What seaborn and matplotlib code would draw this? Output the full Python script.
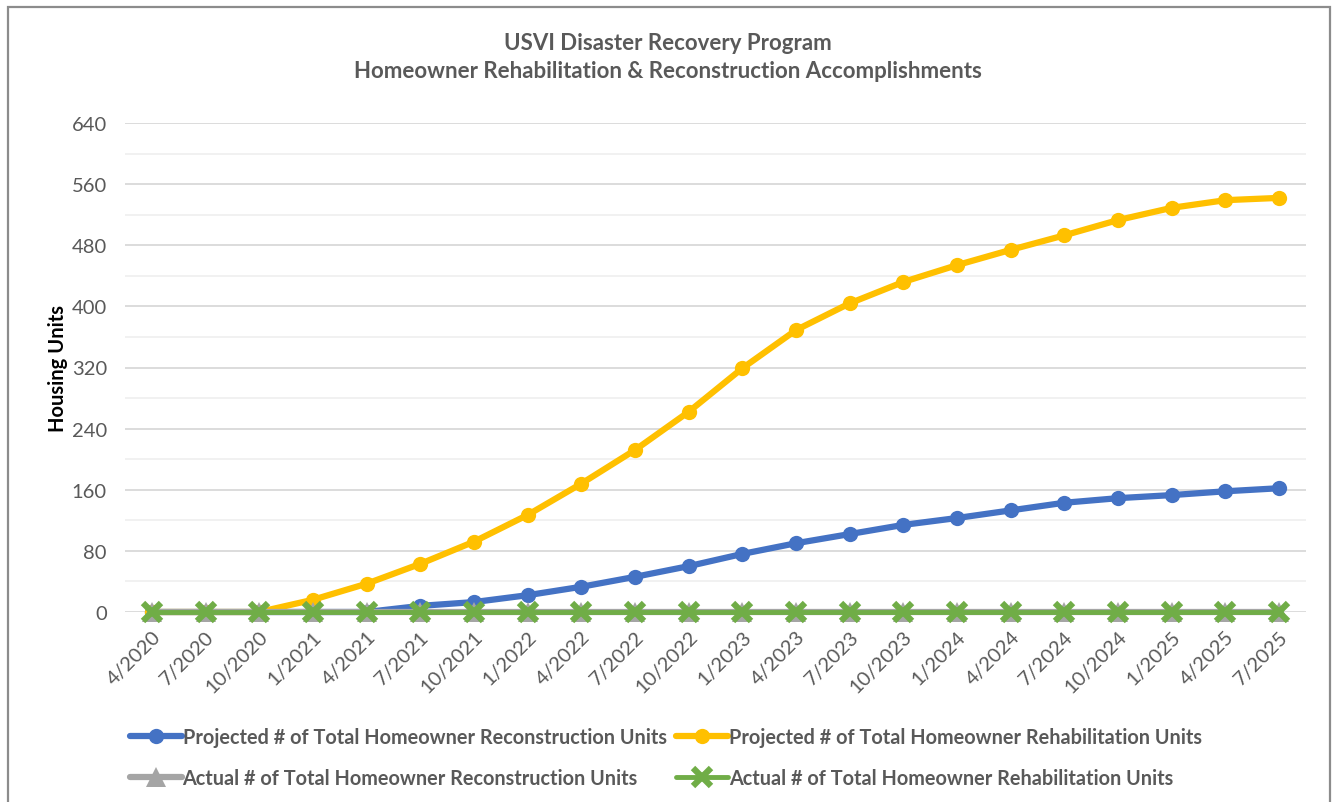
import numpy as np
import pandas as pd
import matplotlib
matplotlib.use("Agg")
import matplotlib.pyplot as plt
from matplotlib.ticker import MultipleLocator
import seaborn as sns

# Quarterly reporting periods
quarters = ["4/2020", "7/2020", "10/2020", "1/2021", "4/2021", "7/2021", "10/2021",
            "1/2022", "4/2022", "7/2022", "10/2022", "1/2023", "4/2023", "7/2023",
            "10/2023", "1/2024", "4/2024", "7/2024", "10/2024", "1/2025", "4/2025",
            "7/2025"]

proj_reconstruction = [0, 0, 0, 0, 0, 8, 13, 22, 33, 46, 60, 76, 90, 102, 114,
                       123, 133, 143, 149, 153, 158, 162]
proj_rehabilitation = [0, 0, 0, 16, 37, 63, 92, 127, 168, 212, 262, 319, 369,
                       404, 432, 454, 474, 493, 513, 529, 539, 542]
actual_reconstruction = [0] * 22
actual_rehabilitation = [0] * 22

series_names = ["Projected # of Total Homeowner Reconstruction Units",
                "Projected # of Total Homeowner Rehabilitation Units",
                "Actual # of Total Homeowner Reconstruction Units",
                "Actual # of Total Homeowner Rehabilitation Units"]

sns.set_theme(style="white")
plt.rcParams["font.family"] = ["Lato", "DejaVu Sans"]

fig = plt.figure(figsize=(13.36, 8.03), dpi=100)
ax = fig.add_axes([125 / 1336, 1 - 613 / 803, (1306 - 125) / 1336, (613 - 124) / 803])

idx = np.arange(len(quarters))
df = pd.DataFrame({
    "idx": np.tile(idx, 4),
    "value": proj_reconstruction + proj_rehabilitation + actual_reconstruction + actual_rehabilitation,
    "series": np.repeat(series_names, len(quarters)),
})

styles = {
    series_names[0]: dict(color="#4472C4", marker="o", lw=4.5, ms=11, mew=0),
    series_names[1]: dict(color="#FFC000", marker="o", lw=4.5, ms=11, mew=0),
    series_names[2]: dict(color="#A5A5A5", marker="^", lw=4.5, ms=14, mew=0),
    series_names[3]: dict(color="#70AD47", marker="x", lw=3.5, ms=12.5, mew=4.5),
}

for name in series_names:
    st = styles[name]
    sub = df[df["series"] == name]
    sns.lineplot(data=sub, x="idx", y="value", ax=ax, color=st["color"],
                 linewidth=st["lw"], marker=st["marker"], markersize=st["ms"],
                 markeredgewidth=st["mew"], markeredgecolor=st["color"],
                 label=name, clip_on=False, zorder=3)

ax.set_xlim(-0.5, len(quarters) - 0.5)
ax.set_ylim(0, 640)
ax.yaxis.set_major_locator(MultipleLocator(80))
ax.yaxis.set_minor_locator(MultipleLocator(40))
ax.grid(which="major", axis="y", color="#D9D9D9", linewidth=1.3)
ax.grid(which="minor", axis="y", color="#F0F0F0", linewidth=1.3)
ax.grid(False, axis="x")
ax.set_axisbelow(True)
for s in ax.spines.values():
    s.set_visible(False)

ax.set_xticks(idx)
ax.set_xticklabels(quarters, rotation=45, ha="right", rotation_mode="anchor",
                   fontsize=14.5, color="#595959")
ax.tick_params(axis="x", length=0, pad=11)
ax.tick_params(axis="y", length=0, pad=13, labelsize=14.5, labelcolor="#595959")
ax.tick_params(axis="y", which="minor", length=0)
ax.set_xlabel("")
ax.set_ylabel("Housing Units", fontsize=14.5, fontweight="bold", color="black", labelpad=3)

fig.text(0.5, 1 - 44 / 803, "USVI Disaster Recovery Program", ha="center", va="center",
         fontsize=16, fontweight="bold", color="#595959")
fig.text(0.5, 1 - 72 / 803, "Homeowner Rehabilitation & Reconstruction Accomplishments",
         ha="center", va="center", fontsize=16, fontweight="bold", color="#595959")

ax.get_legend().remove()
handles, labels = ax.get_legend_handles_labels()
order = [0, 2, 1, 3]  # row-major: projected pair on top, actual pair below
leg = fig.legend([handles[i] for i in order], [labels[i] for i in order], ncol=2,
                 loc="upper left", bbox_to_anchor=(120 / 1336, 1 - 718 / 803),
                 frameon=False, fontsize=14.3, handlelength=2.6, handletextpad=0.05,
                 columnspacing=0.5, labelspacing=1.05, numpoints=1, borderpad=0)
for t in leg.get_texts():
    t.set_color("#595959")
    t.set_fontweight("bold")

# Outer chart border
border = plt.Rectangle((8 / 1336, -0.01), (1330 - 8) / 1336, 1 - 8 / 803 + 0.01,
                       transform=fig.transFigure, fill=False, edgecolor="#8C8C8C",
                       linewidth=1.6)
fig.patches.append(border)

fig.savefig("out.png", dpi=100)
